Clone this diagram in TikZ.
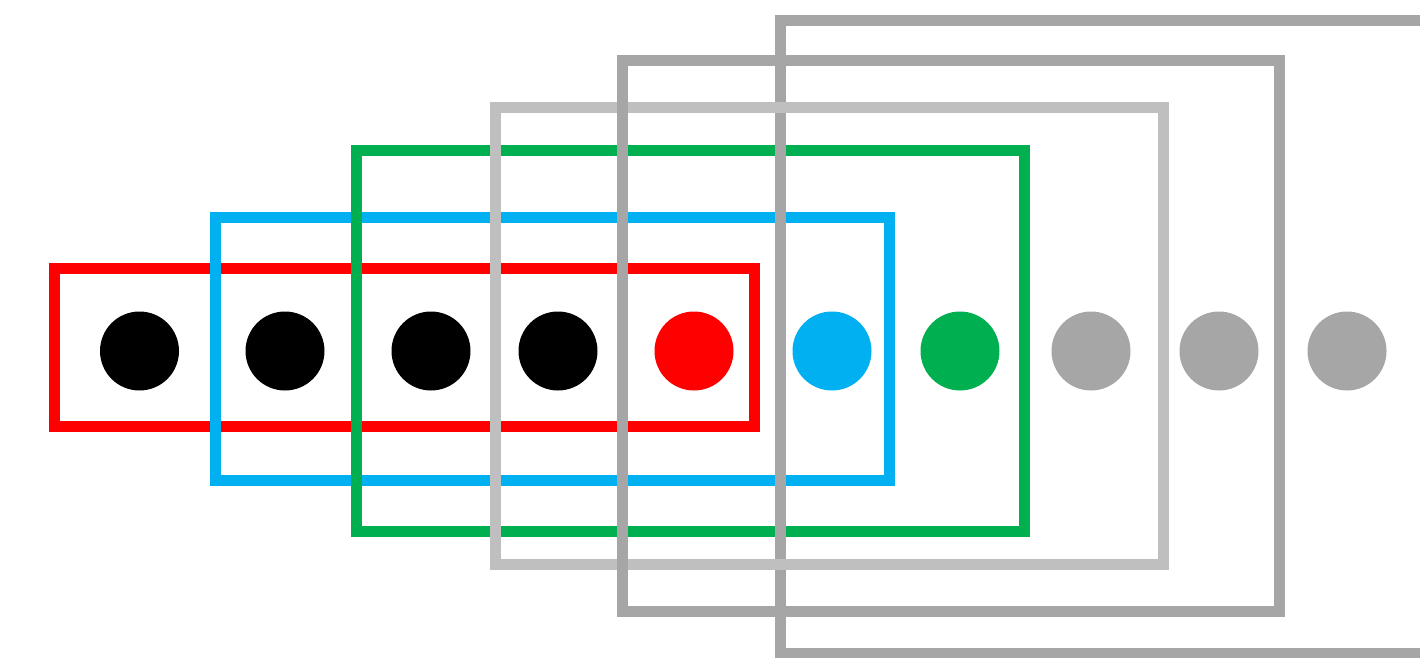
\documentclass[tikz,border=0pt]{standalone}
\definecolor{cred}{HTML}{FF0000}
\definecolor{cblue}{HTML}{00B0F0}
\definecolor{cgreen}{HTML}{00B050}
\definecolor{clgray}{HTML}{BFBFBF}
\definecolor{cgray}{HTML}{A6A6A6}
\begin{document}
\begin{tikzpicture}[x=0.5pt,y=-0.5pt,
  frame/.style={draw=#1,line width=5.5pt,miter limit=10},
  dot/.style={circle,fill=#1,minimum size=39.5pt,inner sep=0pt,draw=none}]
\useasboundingbox (0,0) rectangle (1420,658);
\clip (0,0) rectangle (1420,658);
% frames, in drawing order
\draw[frame=cred] (54.5,268.5) rectangle (754.5,426);
\draw[frame=cblue] (215,217.5) rectangle (889,480);
\draw[frame=cgreen] (356.5,151) rectangle (1024,531);
\draw[frame=cgray] (780,21) rectangle (1450,653);
\draw[frame=clgray] (495,108) rectangle (1163,564);
\draw[frame=cgray] (622,61) rectangle (1279,611.5);
% dots
\node[dot=black] (d1) at (139.5,351) {};
\node[dot=black] (d2) at (285,351) {};
\node[dot=black] (d3) at (431,351) {};
\node[dot=black] (d4) at (558,351) {};
\node[dot=cred] (d5) at (694,351) {};
\node[dot=cblue] (d6) at (832,351) {};
\node[dot=cgreen] (d7) at (960,351) {};
\node[dot=cgray] (d8) at (1091,351) {};
\node[dot=cgray] (d9) at (1219,351) {};
\node[dot=cgray] (d10) at (1347,351) {};
\end{tikzpicture}
\end{document}
